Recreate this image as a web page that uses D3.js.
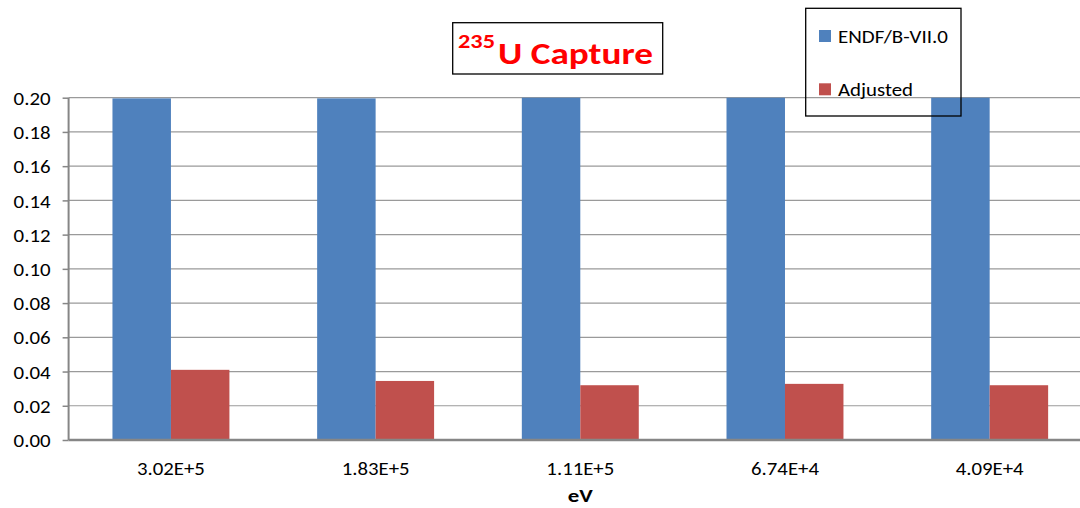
<!DOCTYPE html>
<html><head><meta charset="utf-8">
<script src="https://cdn.jsdelivr.net/npm/d3@7"></script>
<style>body{margin:0;background:#fff}svg{display:block}text{font-family:Carlito,Lato,"Open Sans",sans-serif}</style>
</head><body>
<script>
const categories = ["3.02E+5","1.83E+5","1.11E+5","6.74E+4","4.09E+4"];
const seriesNames = ["ENDF/B-VII.0","Adjusted"];
const endfValues = [0.1996,0.1996,0.2,0.2,0.2];
const adjustedValues = [0.041,0.0345,0.032,0.0328,0.032];
const yTicks = [0,0.02,0.04,0.06,0.08,0.10,0.12,0.14,0.16,0.18,0.20];
const colors = ["#4F81BD","#C0504D"];

const W=1080,H=508;
const svg=d3.select("body").append("svg").attr("width",W).attr("height",H);
const pLeft=68.6,pRight=1092,pTop=97.7,pBottom=440;
const y=d3.scaleLinear().domain([0,0.2]).range([pBottom,pTop]);
const x0=d3.scaleBand().domain(categories).range([pLeft,pRight]).paddingInner(0.4286).paddingOuter(0.2143);
const x1=d3.scaleBand().domain(seriesNames).range([0,x0.bandwidth()]);

function fit(sel,perChar){
  sel.each(function(){const n=this.textContent.length;
    d3.select(this).attr("textLength",n*perChar).attr("lengthAdjust","spacingAndGlyphs");});
}

// gridlines
svg.append("g").selectAll("line").data(yTicks.slice(1)).join("line")
  .attr("x1",pLeft).attr("x2",W).attr("y1",d=>y(d)).attr("y2",d=>y(d))
  .attr("stroke","#9a9a9a").attr("stroke-width",1.2);

// bars
const rows=categories.map((c,i)=>({c,vals:[endfValues[i],adjustedValues[i]]}));
const g=svg.append("g").selectAll("g").data(rows).join("g").attr("transform",d=>`translate(${x0(d.c)},0)`);
g.selectAll("rect").data(d=>d.vals.map((v,j)=>({k:seriesNames[j],v:Math.min(v,0.2),j}))).join("rect")
  .attr("x",d=>x1(d.k)).attr("width",x1.bandwidth())
  .attr("y",d=>y(d.v)).attr("height",d=>y(0)-y(d.v))
  .attr("fill",d=>colors[d.j]);

// y axis
const ya=svg.append("g").attr("transform",`translate(${pLeft},0)`)
  .call(d3.axisLeft(y).tickValues(yTicks).tickFormat(d3.format(".2f")).tickSize(6).tickPadding(12));
ya.select(".domain").attr("stroke","#868686").attr("stroke-width",2).attr("d",`M0,${pTop}V${pBottom}`);
ya.selectAll(".tick line").attr("stroke","#868686").attr("stroke-width",1.5);
ya.selectAll(".tick text").attr("font-size",18.5).attr("fill","#000").attr("font-family","Carlito,Lato,sans-serif")
  .attr("dy","0.36em").call(fit,9.25);

// x axis
const xa=svg.append("g").attr("transform",`translate(0,${pBottom})`)
  .call(d3.axisBottom(x0).tickSize(0).tickPadding(22));
xa.select(".domain").attr("stroke","#868686").attr("stroke-width",2.5).attr("d",`M${pLeft},0H${W}`);
xa.selectAll(".tick text").attr("font-size",18).attr("fill","#000").attr("font-family","Carlito,Lato,sans-serif")
  .attr("dy","0.72em").call(fit,9.7);

// x title
svg.append("text").attr("x",(pLeft+pRight)/2).attr("y",502).attr("text-anchor","middle")
  .attr("font-size",19).attr("font-weight","bold").text("eV").call(fit,12.5);

// title box
svg.append("rect").attr("x",452.7).attr("y",22.7).attr("width",210).attr("height",51.3)
  .attr("fill","#fff").attr("stroke","#000").attr("stroke-width",1.3);
svg.append("text").attr("x",458).attr("y",48).attr("fill","#ff0000").attr("font-weight","bold")
  .attr("font-size",20).text("235").attr("textLength",37).attr("lengthAdjust","spacingAndGlyphs");
svg.append("text").attr("x",498).attr("y",63.5).attr("fill","#ff0000").attr("font-weight","bold")
  .attr("font-size",30).text("U Capture").attr("textLength",155).attr("lengthAdjust","spacingAndGlyphs");

// legend
svg.append("rect").attr("x",805.7).attr("y",8.3).attr("width",155.3).attr("height",107.7)
  .attr("fill","none").attr("stroke","#000").attr("stroke-width",1.3);
const lg=svg.append("g").selectAll("g").data(seriesNames).join("g")
  .attr("transform",(d,i)=>`translate(819,${30+i*53.3})`);
lg.append("rect").attr("width",12).attr("height",12).attr("fill",(d,i)=>colors[i]);
lg.append("text").attr("x",19).attr("y",12.7).attr("font-size",18.5).text(d=>d)
  .attr("textLength",(d,i)=>[110,75][i]).attr("lengthAdjust","spacingAndGlyphs");
</script>
</body></html>
